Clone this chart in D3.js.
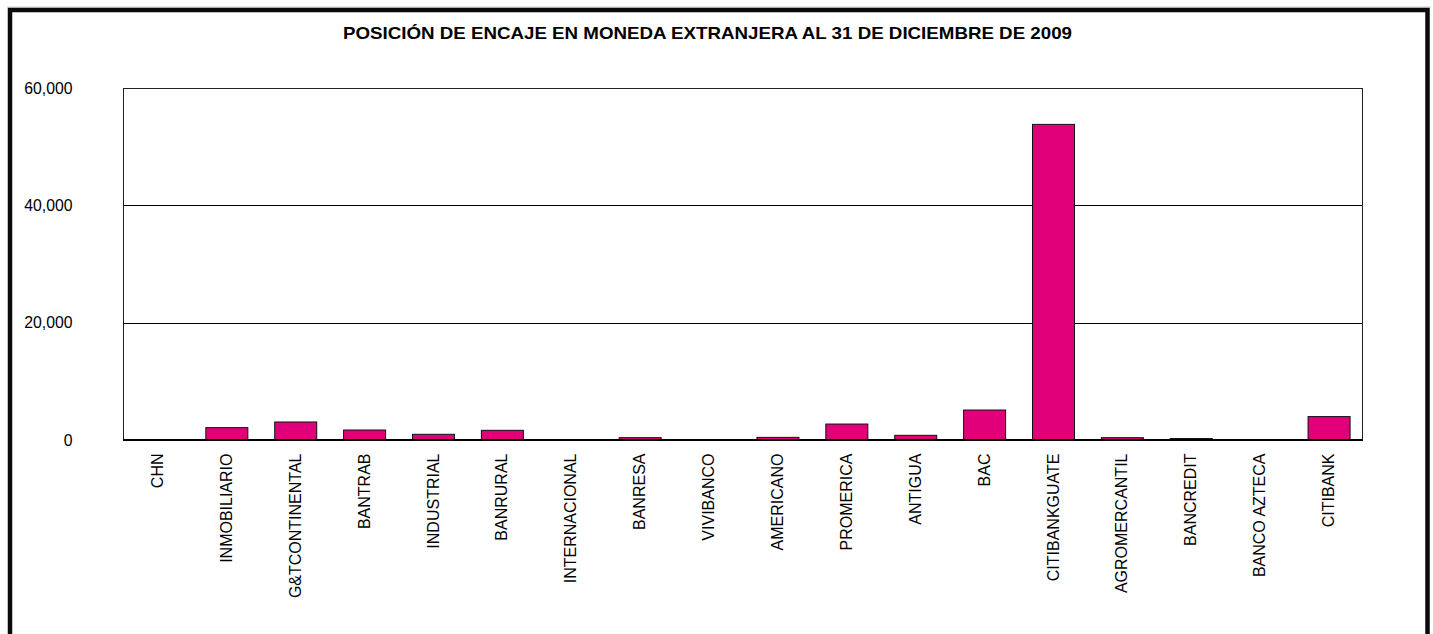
<!DOCTYPE html>
<html>
<head>
<meta charset="utf-8">
<script src="https://cdn.jsdelivr.net/npm/d3@7"></script>
<style>
  html, body { margin: 0; padding: 0; background: #fff; }
  svg { display: block; }
  text { font-family: Arial, "Liberation Sans", sans-serif; fill: #000; }
</style>
</head>
<body>
<svg id="chart" width="1433" height="634"></svg>
<script>
const title = "POSICIÓN DE ENCAJE EN MONEDA EXTRANJERA AL 31 DE DICIEMBRE DE 2009";
const categories = ["CHN", "INMOBILIARIO", "G&TCONTINENTAL", "BANTRAB", "INDUSTRIAL", "BANRURAL",
  "INTERNACIONAL", "BANRESA", "VIVIBANCO", "AMERICANO", "PROMERICA", "ANTIGUA", "BAC",
  "CITIBANKGUATE", "AGROMERCANTIL", "BANCREDIT", "BANCO AZTECA", "CITIBANK"];
const values = [60, 2110, 3070, 1700, 970, 1650, 20, 400, 50, 450, 2720, 800, 5110,
  53800, 400, 250, 20, 3990];
const yTicks = [0, 20000, 40000, 60000];

const W = 1433, H = 634;
const plot = { left: 123, right: 1363, top: 88, bottom: 440 };

const svg = d3.select("#chart");

// faint line above frame
svg.append("line")
  .attr("x1", 7).attr("x2", 1431).attr("y1", 7).attr("y2", 7)
  .attr("stroke", "#ccc").attr("stroke-width", 1);

// outer frame
svg.append("rect")
  .attr("x", 10).attr("y", 10)
  .attr("width", 1417.5).attr("height", 680)
  .attr("fill", "none").attr("stroke", "#0a0a0a").attr("stroke-width", 4.5);

// title
svg.append("text")
  .attr("x", 707.5).attr("y", 38.5)
  .attr("text-anchor", "middle")
  .attr("font-weight", "bold")
  .attr("font-size", "16.3px")
  .attr("textLength", 729)
  .attr("lengthAdjust", "spacingAndGlyphs")
  .text(title);

const x = d3.scaleBand()
  .domain(categories)
  .range([plot.left, plot.right])
  .paddingInner(0.39)
  .paddingOuter(0.195);

const y = d3.scaleLinear()
  .domain([0, 60000])
  .range([plot.bottom, plot.top]);

// plot area frame
svg.append("rect")
  .attr("x", plot.left + 0.5).attr("y", plot.top + 0.5)
  .attr("width", plot.right - plot.left - 1).attr("height", plot.bottom - plot.top)
  .attr("fill", "#fff").attr("stroke", "#222").attr("stroke-width", 1);

// gridlines
svg.append("g").selectAll("line")
  .data(yTicks.filter(d => d > 0 && d < 60000))
  .join("line")
  .attr("x1", plot.left).attr("x2", plot.right - 1)
  .attr("y1", d => Math.round(y(d)) + 0.5).attr("y2", d => Math.round(y(d)) + 0.5)
  .attr("stroke", "#000").attr("stroke-width", 1);

// y axis labels
const yAxis = d3.axisLeft(y).tickValues(yTicks).tickFormat(d3.format(",")).tickSize(0).tickPadding(0);
const yg = svg.append("g").attr("transform", "translate(72.5,0)").call(yAxis);
yg.select(".domain").remove();
yg.selectAll("text")
  .attr("font-size", "15.8px")
  .attr("font-family", "Arial, 'Liberation Sans', sans-serif")
  .attr("fill", "#000");

// bars
svg.append("g").selectAll("rect")
  .data(categories.map((c, i) => ({ c, v: values[i] })))
  .join("rect")
  .attr("x", d => x(d.c) + 0.5)
  .attr("y", d => y(d.v))
  .attr("width", x.bandwidth())
  .attr("height", d => y(0) - y(d.v))
  .attr("fill", "#e2007a")
  .attr("stroke", "#111")
  .attr("stroke-width", 1);

// zero axis line
svg.append("line")
  .attr("x1", plot.left).attr("x2", plot.right)
  .attr("y1", y(0)).attr("y2", y(0))
  .attr("stroke", "#000").attr("stroke-width", 2);

// x axis labels
const xAxis = d3.axisBottom(x).tickSize(0).tickPadding(0);
const xg = svg.append("g").attr("transform", `translate(0,${plot.bottom})`).call(xAxis);
xg.select(".domain").remove();
xg.selectAll("text")
  .attr("font-size", "16px")
  .attr("font-family", "Arial, 'Liberation Sans', sans-serif")
  .attr("fill", "#000")
  .attr("text-anchor", "end")
  .attr("transform", "translate(0,13.5) rotate(-90)")
  .attr("x", 0).attr("y", 0)
  .attr("dy", "0.35em");
</script>
</body>
</html>
